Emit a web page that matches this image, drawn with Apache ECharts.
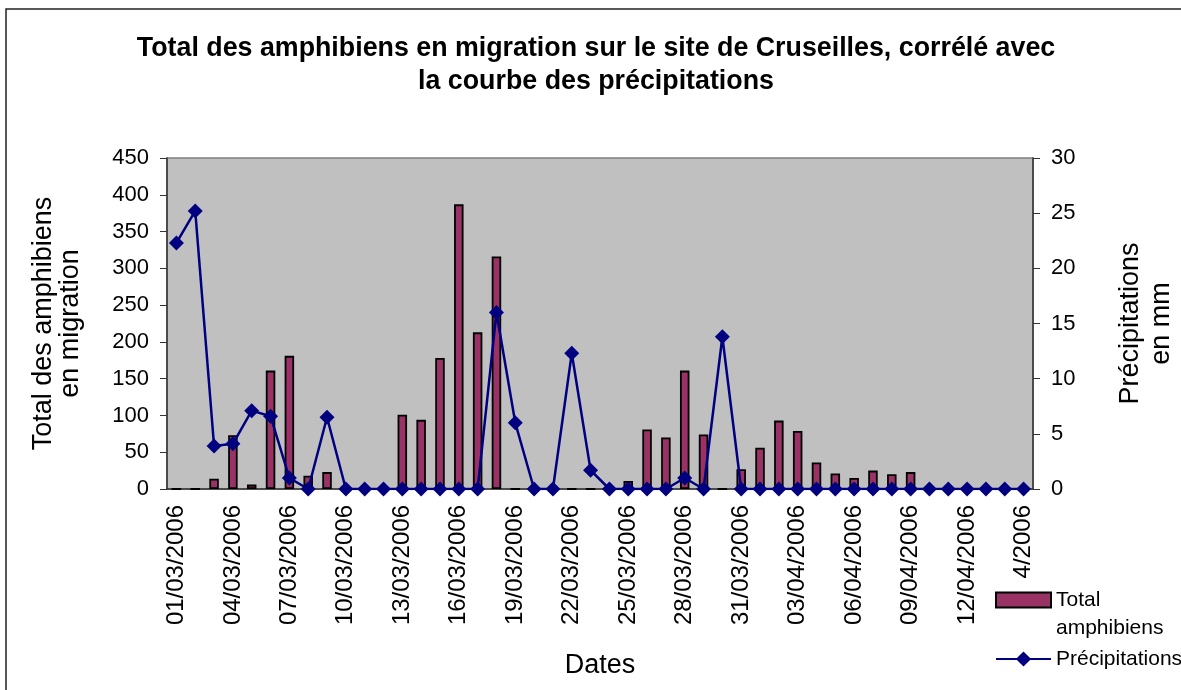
<!DOCTYPE html>
<html>
<head>
<meta charset="utf-8">
<script src="https://cdn.jsdelivr.net/npm/echarts@6/dist/echarts.min.js"></script>
<style>
    html, body { margin: 0; padding: 0; background: #fff; }
    #chart { width: 1181px; height: 690px; }
</style>
</head>
<body>
<div id="chart"></div>
<script>
    // dates, one per day
    var dates = [
        '01/03/2006', '02/03/2006', '03/03/2006', '04/03/2006', '05/03/2006', '06/03/2006',
        '07/03/2006', '08/03/2006', '09/03/2006', '10/03/2006', '11/03/2006', '12/03/2006',
        '13/03/2006', '14/03/2006', '15/03/2006', '16/03/2006', '17/03/2006', '18/03/2006',
        '19/03/2006', '20/03/2006', '21/03/2006', '22/03/2006', '23/03/2006', '24/03/2006',
        '25/03/2006', '26/03/2006', '27/03/2006', '28/03/2006', '29/03/2006', '30/03/2006',
        '31/03/2006', '01/04/2006', '02/04/2006', '03/04/2006', '04/04/2006', '05/04/2006',
        '06/04/2006', '07/04/2006', '08/04/2006', '09/04/2006', '10/04/2006', '11/04/2006',
        '12/04/2006', '13/04/2006', '14/04/2006', '15/04/2006'
    ];
    var amphibiens = [
        0, 0, 14, 73, 6, 161, 181, 18, 23, 0, 0, 0,
        101, 94, 178, 387, 213, 316, 0, 0, 0, 0, 0, 0,
        11, 81, 70, 161, 74, 0, 27, 56, 93, 79, 36, 21,
        15, 25, 20, 23, 0, 0, 0, 0, 0, 0
    ];
    var precipitations = [
        22.3, 25.2, 3.9, 4.1, 7.1, 6.6, 1.0, 0, 6.5, 0, 0, 0,
        0, 0, 0, 0, 0, 16.0, 6.0, 0, 0, 12.3, 1.7, 0,
        0, 0, 0, 1.0, 0, 13.8, 0, 0, 0, 0, 0, 0,
        0, 0, 0, 0, 0, 0, 0, 0, 0, 0
    ];
    var leftTicks = [0, 450, 50];
    var rightTicks = [0, 30, 5];

    var font = 'Liberation Sans, Arial, sans-serif';
    var chart = echarts.init(document.getElementById('chart'));

    var option = {
        textStyle: { fontFamily: font, color: '#000' },
        title: {
            text: 'Total des amphibiens en migration sur le site de Cruseilles, corrélé avec\nla courbe des précipitations',
            left: 596,
            top: 32,
            padding: 0,
            textAlign: 'center',
            textStyle: { fontSize: 26.8, fontWeight: 'bold', lineHeight: 33, color: '#000', fontFamily: font }
        },
        graphic: [
            {
                type: 'rect',
                shape: { x: 6, y: 9, width: 1200, height: 700 },
                style: { fill: 'none', stroke: '#222', lineWidth: 1.5 },
                z: -1
            },
            {
                // legend backdrop, hides the end of the last date label
                type: 'rect',
                shape: { x: 995, y: 579, width: 184, height: 100 },
                style: { fill: '#fff' },
                z: 3
            }
        ],
        legend: [
            {
                orient: 'vertical',
                left: 995,
                top: 558,
                padding: 0,
                itemWidth: 55,
                itemHeight: 15,
                data: [{ name: 'Total amphibiens', icon: 'rect' }],
                // leading blank line keeps "Total" level with the icon
                formatter: function () { return ' \nTotal\namphibiens'; },
                textStyle: { fontSize: 21, color: '#000', lineHeight: 28, fontFamily: font }
            },
            {
                orient: 'vertical',
                left: 995,
                top: 645,
                padding: 0,
                itemWidth: 55,
                itemHeight: 19,
                data: ['Précipitations'],
                textStyle: { fontSize: 21, color: '#000', lineHeight: 28, fontFamily: font }
            }
        ],
        grid: {
            left: 167,
            right: 148,
            top: 158,
            bottom: 201,
            outerBoundsMode: 'none',
            show: true,
            backgroundColor: '#c0c0c0',
            borderColor: '#808080',
            borderWidth: 1.5
        },
        xAxis: {
            type: 'category',
            data: dates,
            name: 'Dates',
            nameLocation: 'middle',
            nameGap: 163,
            nameTextStyle: { fontSize: 27, color: '#000' },
            axisLine: { lineStyle: { color: '#333', width: 1.5 } },
            axisTick: { inside: true, length: 7, interval: 0, lineStyle: { color: '#333' } },
            axisLabel: { rotate: 90, interval: 2, fontSize: 24, color: '#000', margin: 16 }
        },
        yAxis: [
            {
                type: 'value',
                min: leftTicks[0],
                max: leftTicks[1],
                interval: leftTicks[2],
                name: 'Total des amphibiens\nen migration',
                nameLocation: 'middle',
                nameGap: 83,
                nameTextStyle: { fontSize: 27, color: '#000', lineHeight: 27 },
                axisLine: { show: true, lineStyle: { color: '#333', width: 1.5 } },
                axisTick: { show: true, length: 7, lineStyle: { color: '#333' } },
                axisLabel: { fontSize: 22, color: '#000', margin: 18 },
                splitLine: { show: false }
            },
            {
                type: 'value',
                min: rightTicks[0],
                max: rightTicks[1],
                interval: rightTicks[2],
                name: 'Précipitations\nen mm',
                nameLocation: 'middle',
                nameGap: 82,
                nameRotate: 90,
                nameTextStyle: { fontSize: 27, color: '#000', lineHeight: 31 },
                axisLine: { show: true, lineStyle: { color: '#333', width: 1.5 } },
                axisTick: { show: true, length: 7, lineStyle: { color: '#333' } },
                axisLabel: { fontSize: 22, color: '#000', margin: 18 },
                splitLine: { show: false }
            }
        ],
        series: [
            {
                name: 'Total amphibiens',
                type: 'bar',
                yAxisIndex: 0,
                barWidth: 9.5,
                data: amphibiens,
                itemStyle: { color: '#993366', borderColor: '#000', borderWidth: 1.8 }
            },
            {
                name: 'Précipitations',
                type: 'line',
                yAxisIndex: 1,
                data: precipitations,
                symbol: 'diamond',
                symbolSize: 15,
                showAllSymbol: true,
                lineStyle: { color: '#000080', width: 2.5 },
                itemStyle: { color: '#000080' },
                z: 5
            }
        ]
    };

    chart.setOption(option);
</script>
</body>
</html>
